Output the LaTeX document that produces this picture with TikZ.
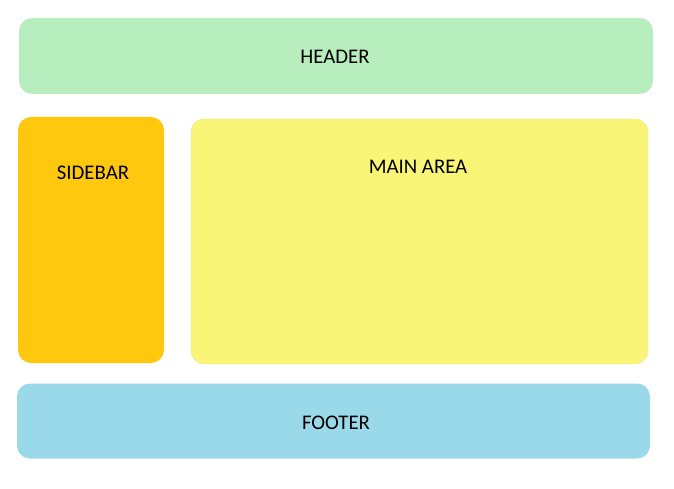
\documentclass[tikz,border=0pt]{standalone}
\usepackage{fontspec}
\setmainfont{Carlito}
\usetikzlibrary{positioning}

\definecolor{headergreen}{RGB}{184,237,189}
\definecolor{sidebarorange}{RGB}{254,200,14}
\definecolor{mainyellow}{RGB}{249,245,118}
\definecolor{mainborder}{RGB}{238,230,140}
\definecolor{footerblue}{RGB}{153,217,234}

\begin{document}
\begin{tikzpicture}[
  x = 1pt, y = -1pt,
  every node/.style = {
    inner sep = 0pt,
    font = \fontsize{20.8}{24}\selectfont
  },
  area/.style = {rounded corners = 13pt}
]
  \useasboundingbox (0,0) rectangle (674,489);

  % Bereiche
  \node[area, fill=headergreen, minimum width=634pt, minimum height=76pt] (header) at (336,56) {};
  \node[area, fill=sidebarorange, minimum width=146pt, minimum height=246pt] (sidebar) at (91,240) {};
  \node[area, fill=mainyellow, draw=mainborder, minimum width=457pt, minimum height=245pt] (main) at (419.5,241.5) {};
  \node[area, fill=footerblue, minimum width=633pt, minimum height=75pt] (footer) at (333.5,421) {};

  % Beschriftungen
  \node (headertext) at (335,57) {HEADER};
  \node (sidebartext) at (93,173) {SIDEBAR};
  \node (maintext) at (418,167) {MAIN AREA};
  \node (footertext) at (336,423) {FOOTER};
\end{tikzpicture}
\end{document}
